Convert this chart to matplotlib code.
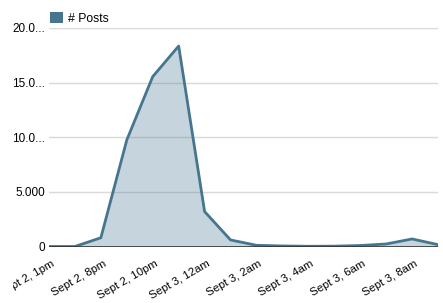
import matplotlib
matplotlib.use("Agg")
import matplotlib.pyplot as plt
from matplotlib.patches import Patch
from matplotlib.transforms import Bbox, TransformedBbox, ScaledTranslation

plt.rcParams['font.family'] = ['Liberation Sans', 'DejaVu Sans']

posts = [0, 0, 800, 9750, 15550, 18350, 3200, 600, 110, 50, 20, 30, 90, 230, 690, 170]
x_tick_pos = [0, 2, 4, 6, 8, 10, 12, 14]
x_tick_labels = ["Sept 2, 1pm", "Sept 2, 8pm", "Sept 2, 10pm", "Sept 3, 12am",
                 "Sept 3, 2am", "Sept 3, 4am", "Sept 3, 6am", "Sept 3, 8am"]
y_tick_vals = [0, 5000, 10000, 15000, 20000]
y_tick_labels = ["0", "5.000", "10.0...", "15.0...", "20.0..."]
series_name = "# Posts"

line_color = "#45758f"

fig = plt.figure(figsize=(4.43, 3.03), dpi=100)
ax = fig.add_axes([49/443, 1-246.5/303, (438-49)/443, (246.5-28)/303])

xs = list(range(len(posts)))
ax.fill_between(xs, posts, 0, color=line_color, alpha=0.3, linewidth=0)
ax.plot(xs, posts, color=line_color, linewidth=2)

ax.set_xlim(0, len(posts)-1)
ax.set_ylim(0, 20000)
ax.set_yticks(y_tick_vals)
ax.set_yticklabels(y_tick_labels, fontsize=8.5)
ax.set_xticks(x_tick_pos)
ax.set_xticklabels(x_tick_labels, fontsize=8.2, rotation=30, ha='right', rotation_mode='anchor')
ax.tick_params(axis='both', length=0)
ax.tick_params(axis='y', pad=3)
ax.tick_params(axis='x', pad=8.5)

shift = ScaledTranslation(2/100, 0, fig.dpi_scale_trans)
clip = TransformedBbox(Bbox([[12.5/443, 0], [1, 1]]), fig.transFigure)
for lab in ax.get_xticklabels():
    lab.set_transform(lab.get_transform() + shift)
    lab.set_clip_box(clip)
    lab.set_clip_on(True)

for v in y_tick_vals[1:]:
    ax.axhline(v, color="#d9d9d9", linewidth=1, zorder=0)
ax.axhline(0, color="#333333", linewidth=1.2, zorder=3)

for s in ax.spines.values():
    s.set_visible(False)

ax.legend(handles=[Patch(facecolor=line_color, edgecolor='none', label=series_name)],
          loc='lower left', bbox_to_anchor=(-0.005, 1.0), frameon=False,
          fontsize=8.8, handlelength=1.05, handleheight=1.05, handletextpad=0.45,
          borderaxespad=0.15, borderpad=0.1)

fig.savefig("out.png", dpi=100)
